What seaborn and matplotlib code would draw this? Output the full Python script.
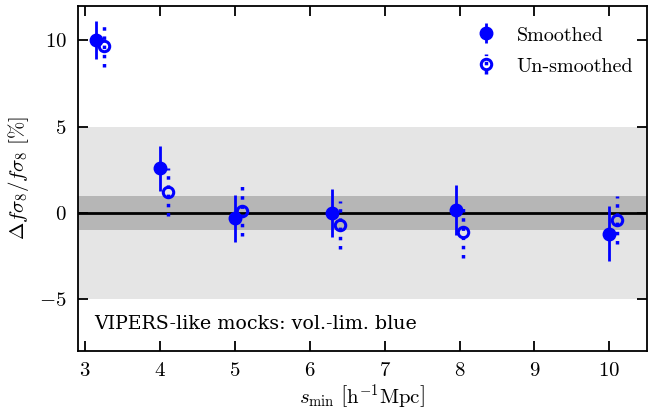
import numpy as np
import matplotlib
matplotlib.use('Agg')
import matplotlib.pyplot as plt
import seaborn as sns

# values
s_min_smooth = [3.15, 4.0, 5.0, 6.3, 7.95, 10.0]
dfs8_smooth = [10.0, 2.6, -0.3, 0.0, 0.15, -1.2]
err_smooth = [1.1, 1.3, 1.35, 1.4, 1.45, 1.6]

s_min_unsmooth = [3.25, 4.1, 5.1, 6.4, 8.05, 10.1]
dfs8_unsmooth = [9.7, 1.2, 0.1, -0.7, -1.1, -0.4]
err_unsmooth = [1.25, 1.4, 1.45, 1.4, 1.5, 1.4]

sns.set_style('ticks')
plt.rcParams['font.family'] = ['cmr10', 'DejaVu Serif']
plt.rcParams['mathtext.fontset'] = 'cm'
plt.rcParams['axes.formatter.use_mathtext'] = True
plt.rcParams['axes.unicode_minus'] = True
for key in ['text.color', 'axes.labelcolor', 'xtick.color', 'ytick.color', 'axes.edgecolor']:
    plt.rcParams[key] = 'black'

fig = plt.figure(figsize=(6.48, 4.19), dpi=100)
ax = fig.add_axes([0.12, 0.162, 0.878, 0.824])

# shaded bands and zero line
ax.axhspan(-5, 5, color='#e5e5e5', lw=0, zorder=0)
ax.axhspan(-1, 1, color='#b6b6b6', lw=0, zorder=0)
ax.axhline(0, color='black', lw=2, zorder=1)

e1 = ax.errorbar(s_min_smooth, dfs8_smooth, yerr=err_smooth, fmt='o', color='blue',
                 ms=9, elinewidth=2, capsize=0, label='Smoothed', zorder=3)
e2 = ax.errorbar(s_min_unsmooth, dfs8_unsmooth, yerr=err_unsmooth, fmt='o', color='blue',
                 mfc='none', mec='blue', mew=2.2, ms=7.5, elinewidth=2.5, capsize=0,
                 label='Un-smoothed', zorder=3)
e2[2][0].set_linestyle(':')

ax.set_xlim(2.9, 10.5)
ax.set_ylim(-8, 12)
ax.set_xticks(range(3, 11))
ax.set_yticks([-5, 0, 5, 10])
ax.tick_params(direction='in', top=True, right=True, length=7, width=1.3, labelsize=15, pad=8)
for sp in ax.spines.values():
    sp.set_linewidth(1.3)

ax.set_xlabel(r'$s_{\rm min}\ \left[{\rm h^{-1}Mpc}\right]$', fontsize=15, labelpad=2)
ax.set_ylabel(r'$\Delta f\sigma_8/f\sigma_8\ [\%]$', fontsize=15, labelpad=6)

ax.text(3.12, -6.4, 'VIPERS-like mocks: vol.-lim. blue', fontsize=13.7,
        family=['DejaVu Serif'], va='center')

leg = ax.legend(loc='upper right', frameon=False, fontsize=14.5, handletextpad=0.9,
                bbox_to_anchor=(1.008, 0.996), labelspacing=0.55, handlelength=1.2,
                handleheight=1.0)

fig.savefig('out.png', dpi=100)
